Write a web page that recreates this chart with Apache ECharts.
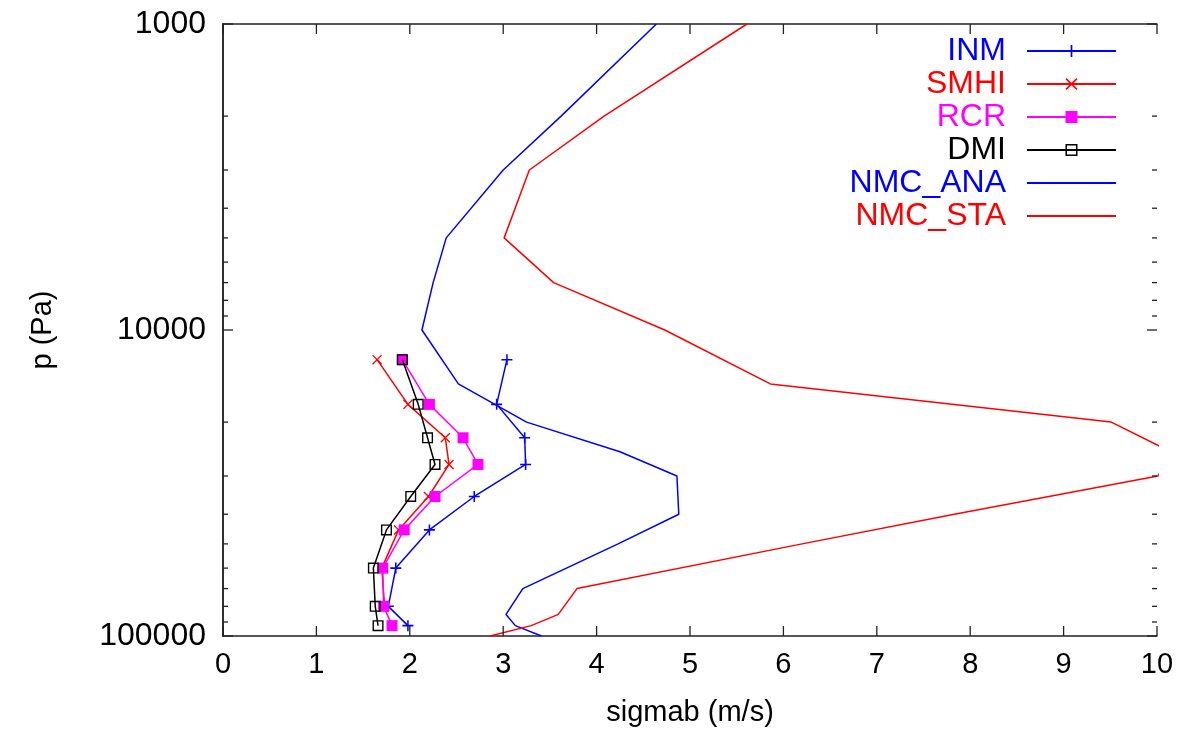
<!DOCTYPE html>
<html>
<head>
<meta charset="utf-8">
<script src="https://cdn.jsdelivr.net/npm/echarts@6/dist/echarts.min.js"></script>
<style>
html,body{margin:0;padding:0;background:#fff;}
#c{width:1183px;height:740px;}
</style>
</head>
<body>
<div id="c"></div>
<script>
// ---- data ----
var modelLevels = [12500, 17500, 22500, 27500, 35000, 45000, 60000, 80000, 92500];
var inmValues  = [3.04, 2.93, 3.23, 3.24, 2.69, 2.21, 1.85, 1.77, 1.98];
var smhiValues = [1.65, 1.98, 2.38, 2.42, 2.20, 1.88, 1.70, 1.73];
var rcrValues  = [1.92, 2.21, 2.57, 2.73, 2.27, 1.94, 1.71, 1.72, 1.81];
var dmiValues  = [1.92, 2.09, 2.19, 2.27, 2.01, 1.75, 1.61, 1.63, 1.66];

var stdLevels = [1000, 2000, 3000, 5000, 7000, 10000, 15000, 20000, 25000, 30000, 40000, 50000, 70000, 85000, 92500, 100000];
var nmcAnaValues = [4.64, 3.62, 3.00, 2.39, 2.25, 2.13, 2.52, 3.25, 4.25, 4.86, 4.88, 4.23, 3.21, 3.03, 3.13, 3.41];
var nmcStaValues = [5.61, 4.08, 3.28, 3.01, 3.54, 4.73, 5.86, 9.51, 10.15, 10.01, 7.83, 6.20, 3.79, 3.59, 3.30, 2.86];

// tick values
var xTickValues = [0, 1, 2, 3, 4, 5, 6, 7, 8, 9, 10];
var yMajorTicks = [1000, 10000, 100000];
var yMinorTicks = [2000, 3000, 4000, 5000, 6000, 7000, 8000, 9000,
                   20000, 30000, 40000, 50000, 60000, 70000, 80000, 90000];

var seriesNames = ['INM', 'SMHI', 'RCR', 'DMI', 'NMC_ANA', 'NMC_STA'];
var seriesColors = ['#0000ff', '#ff0000', '#ff00ff', '#000000', '#0000ff', '#ff0000'];

function pairs(xs, ys) {
  var out = [];
  for (var i = 0; i < xs.length; i++) out.push([xs[i], ys[i]]);
  return out;
}

var PLUS = 'path://M0,4.3H10V5.7H0Z M4.3,0H5.7V10H4.3Z';
var CROSS = 'path://M0,0.95L0.95,0L10,9.05L9.05,10Z M9.05,0L10,0.95L0.95,10L0,9.05Z';
var HOLLOW = 'path://M0,0H10V10H0Z M1.25,1.25V8.75H8.75V1.25Z';

var FONT = '"Liberation Sans", Arial, Helvetica, sans-serif';
var AXIS_COLOR = '#222';

function lineSeries(idx, data, symbol, size) {
  var col = seriesColors[idx];
  return {
    name: seriesNames[idx],
    type: 'line',
    data: data,
    symbol: symbol,
    symbolSize: size,
    showSymbol: symbol !== 'none',
    clip: true,
    lineStyle: { color: col, width: 1.5 },
    itemStyle: { color: col, borderWidth: 0 },
    emphasis: { disabled: true },
    z: 2 + idx
  };
}

function tickSeries(data, draw) {
  return {
    type: 'custom',
    silent: true,
    clip: false,
    data: data,
    renderItem: function (params, api) {
      return draw(api);
    },
    z: 20
  };
}
var TICK_STYLE = { stroke: AXIS_COLOR, lineWidth: 1.3 };

function yTickDraw(len) {
  return function (api) {
    var pl = api.coord([0, api.value(1)]);
    var pr = api.coord([10, api.value(1)]);
    return {
      type: 'group',
      children: [
        { type: 'line', shape: { x1: pl[0], y1: pl[1], x2: pl[0] + len, y2: pl[1] }, style: TICK_STYLE },
        { type: 'line', shape: { x1: pr[0], y1: pr[1], x2: pr[0] - len, y2: pr[1] }, style: TICK_STYLE }
      ]
    };
  };
}
function xTickDraw(api) {
  var pb = api.coord([api.value(0), 100000]);
  var pt = api.coord([api.value(0), 1000]);
  return {
    type: 'group',
    children: [
      { type: 'line', shape: { x1: pb[0], y1: pb[1], x2: pb[0], y2: pb[1] - 10 }, style: TICK_STYLE },
      { type: 'line', shape: { x1: pt[0], y1: pt[1], x2: pt[0], y2: pt[1] + 10 }, style: TICK_STYLE }
    ]
  };
}

var chart = echarts.init(document.getElementById('c'), null, { renderer: 'canvas' });

var legendData = seriesNames.map(function (n, i) {
  var item = { name: n, textStyle: { color: seriesColors[i] } };
  if (n.indexOf('NMC') === 0) item.itemStyle = { opacity: 0 };
  return item;
});

var option = {
  animation: false,
  backgroundColor: '#ffffff',
  textStyle: { fontFamily: FONT },
  grid: { left: 223, right: 26, top: 24, bottom: 104, containLabel: false },
  legend: {
    orient: 'vertical',
    right: 61,
    top: 30,
    align: 'right',
    itemWidth: 89,
    itemHeight: 15,
    itemGap: 1,
    selectedMode: false,
    textStyle: { fontSize: 32, fontFamily: FONT, padding: [0, 16, 0, 0], lineHeight: 31 },
    data: legendData
  },
  xAxis: [{
    type: 'value',
    min: 0, max: 10, interval: 1,
    position: 'bottom',
    name: 'sigmab (m/s)',
    nameLocation: 'middle',
    nameGap: 62,
    nameTextStyle: { fontSize: 29, color: '#000', fontFamily: FONT },
    axisLine: { show: true, lineStyle: { color: AXIS_COLOR, width: 1.5 } },
    axisTick: { show: false },
    axisLabel: { fontSize: 29, color: '#000', margin: 14, fontFamily: FONT },
    splitLine: { show: false }
  }, {
    type: 'value',
    min: 0, max: 10, interval: 1,
    position: 'top',
    axisLine: { show: true, lineStyle: { color: AXIS_COLOR, width: 1.5 } },
    axisTick: { show: false },
    axisLabel: { show: false },
    splitLine: { show: false }
  }],
  yAxis: [{
    type: 'log',
    logBase: 10,
    min: 1000, max: 100000,
    inverse: true,
    position: 'left',
    name: 'p (Pa)',
    nameLocation: 'middle',
    nameGap: 166,
    nameRotate: 90,
    nameTextStyle: { fontSize: 29, color: '#000', fontFamily: FONT },
    axisLine: { show: true, lineStyle: { color: AXIS_COLOR, width: 1.5 } },
    axisTick: { show: false },
    axisLabel: {
      fontSize: 32, color: '#000', margin: 17, fontFamily: FONT,
      formatter: function (v) { return String(Math.round(v)); }
    },
    splitLine: { show: false },
    minorTick: { show: false }
  }, {
    type: 'log',
    logBase: 10,
    min: 1000, max: 100000,
    inverse: true,
    position: 'right',
    axisLine: { show: true, lineStyle: { color: AXIS_COLOR, width: 1.5 } },
    axisTick: { show: false },
    axisLabel: { show: false },
    splitLine: { show: false }
  }],
  series: [
    lineSeries(0, pairs(inmValues, modelLevels), PLUS, 11),
    lineSeries(1, pairs(smhiValues, modelLevels.slice(0, smhiValues.length)), CROSS, 10),
    lineSeries(2, pairs(rcrValues, modelLevels), 'rect', 11),
    lineSeries(3, pairs(dmiValues, modelLevels), HOLLOW, 11),
    lineSeries(4, pairs(nmcAnaValues, stdLevels), 'none', 0),
    lineSeries(5, pairs(nmcStaValues, stdLevels), 'none', 0),
    tickSeries(yMinorTicks.map(function (v) { return [0, v]; }), yTickDraw(5)),
    tickSeries(yMajorTicks.map(function (v) { return [0, v]; }), yTickDraw(10)),
    tickSeries(xTickValues.map(function (v) { return [v, 1000]; }), xTickDraw)
  ]
};

chart.setOption(option);
</script>
</body>
</html>
